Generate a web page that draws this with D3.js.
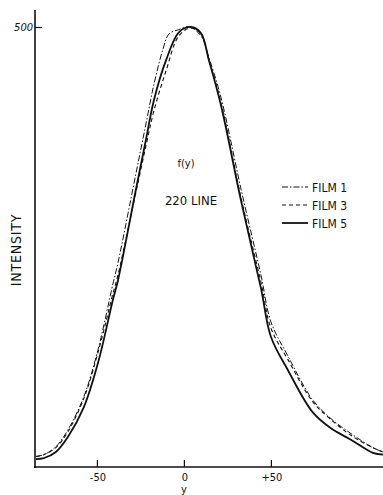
<!DOCTYPE html>
<html>
<head>
<meta charset="utf-8">
<script src="https://cdn.jsdelivr.net/npm/d3@7"></script>
<style>
  html, body { margin: 0; padding: 0; background: #fff; }
  svg text { fill: #111; font-family: "DejaVu Sans Condensed", "Liberation Sans Narrow", sans-serif; }
</style>
</head>
<body>
<div id="chart"></div>
<script>
// y positions (distance along the line) and intensities
const posFilm1 = [-85, -80.5, -73.6, -66.7, -57.5, -49.4, -40.8, -37.9, -27.6, -21.8, -17.2, -12, -8.6, -3, 3, 9.8, 14.4, 21.3, 32.8, 44.3, 50, 59.8, 74.1, 84.5, 96, 108.6, 114.4]
const film1 = [12, 14, 23, 42, 80, 133, 208, 232, 333, 390, 435, 475, 492, 497, 500, 490, 465, 420, 316, 218, 165, 126, 76, 55, 38, 22, 17]

const posFilm3 = [-85, -80.5, -73.6, -66.7, -57.5, -49.4, -40.8, -37.9, -27.6, -21.8, -17.2, -10.3, -2.9, 4, 9.8, 14.4, 21.3, 32.8, 44.3, 50, 59.8, 74.1, 84.5, 96, 108.6, 114.4]
const film3 = [12, 14, 22, 40, 78, 130, 197, 218, 312, 365, 405, 450, 490, 499, 492, 463, 414, 306, 210, 158, 122, 74, 54, 36, 22, 17]

const posFilm5 = [-85, -80.5, -73.6, -66.7, -57.5, -49.4, -40.8, -37.9, -27.6, -21.8, -17.2, -10.3, -2.9, 4, 9.8, 14.4, 21.3, 32.8, 44.3, 50, 59.8, 74.1, 84.5, 96, 108.6, 114.4]
const film5 = [9, 10, 17, 34, 68, 118, 190, 212, 315, 372, 417, 462, 494, 500, 493, 462, 411, 303, 203, 148, 110, 62, 44, 31, 16, 14]

const xTicks = [-50, 0, 50]
const xTickLabels = ['-50', '0', '+50']
const yTicks = [500]

const series = [
  {name: 'FILM 1', pos: posFilm1, vals: film1, dash: '6,2,1.5,2', width: 1},
  {name: 'FILM 3', pos: posFilm3, vals: film3, dash: '4,3', width: 1.1},
  {name: 'FILM 5', pos: posFilm5, vals: film5, dash: null, width: 1.8}
]

const width = 383
const height = 495

const svg = d3.select('#chart')
  .append('svg')
  .attr('width', width)
  .attr('height', height)

const x = d3.scaleLinear().domain([-85, 115]).range([36, 384])
const y = d3.scaleLinear().domain([0, 500]).range([467, 27])

// axes: plain lines like the hand drawing
svg.append('line')
  .attr('x1', 35).attr('x2', 35)
  .attr('y1', 10).attr('y2', 468)
  .attr('stroke', '#111').attr('stroke-width', 1.6)

svg.append('line')
  .attr('x1', 34).attr('x2', 383)
  .attr('y1', 467).attr('y2', 467)
  .attr('stroke', '#111').attr('stroke-width', 1.6)

// y tick
const yAxis = d3.axisRight(y).tickValues(yTicks).tickSize(7).tickFormat('')
svg.append('g')
  .attr('transform', 'translate(35,0)')
  .call(yAxis)
  .call(g => g.select('.domain').remove())
  .call(g => g.selectAll('line').attr('stroke', '#111').attr('stroke-width', 1.2))

svg.selectAll('.ylab')
  .data(yTicks)
  .enter()
  .append('text')
  .attr('class', 'ylab')
  .attr('x', 33)
  .attr('y', d => y(d) + 4)
  .attr('text-anchor', 'end')
  .style('font-size', '11px')
  .style('font-style', 'italic')
  .text(d => d)

// x ticks pointing up
const xAxis = d3.axisTop(x).tickValues(xTicks).tickSize(7).tickFormat('')
svg.append('g')
  .attr('transform', 'translate(0,467)')
  .call(xAxis)
  .call(g => g.select('.domain').remove())
  .call(g => g.selectAll('line').attr('stroke', '#111').attr('stroke-width', 1.2))

svg.selectAll('.xlab')
  .data(xTicks)
  .enter()
  .append('text')
  .attr('class', 'xlab')
  .attr('x', d => x(d) + 1)
  .attr('y', 481)
  .attr('text-anchor', 'middle')
  .style('font-size', '11px')
  .text((d, i) => xTickLabels[i])

svg.append('text')
  .attr('x', x(0))
  .attr('y', 493)
  .attr('text-anchor', 'middle')
  .style('font-size', '11px')
  .text('y')

svg.append('text')
  .attr('transform', 'translate(21,250) rotate(-90)')
  .attr('text-anchor', 'middle')
  .style('font-size', '14px')
  .style('letter-spacing', '0.8px')
  .text('INTENSITY')

// curves
const line = d3.line()
  .x(d => x(d[0]))
  .y(d => y(d[1]))
  .curve(d3.curveCatmullRom.alpha(0.5))

svg.selectAll('.curve')
  .data(series)
  .enter()
  .append('path')
  .attr('class', 'curve')
  .attr('d', s => line(s.pos.map((p, i) => [p, s.vals[i]])))
  .attr('fill', 'none')
  .attr('stroke', '#111')
  .attr('stroke-width', s => s.width)
  .attr('stroke-dasharray', s => s.dash)

// annotations
svg.append('text')
  .attr('x', 186)
  .attr('y', 167)
  .attr('text-anchor', 'middle')
  .style('font-size', '11px')
  .text('f(y)')

svg.append('text')
  .attr('x', 191)
  .attr('y', 205)
  .attr('text-anchor', 'middle')
  .style('font-size', '13px')
  .text('220 LINE')

// legend
const legend = svg.selectAll('.legend')
  .data(series)
  .enter()
  .append('g')
  .attr('class', 'legend')
  .attr('transform', (d, i) => `translate(282,${187 + i * 18})`)

legend.append('line')
  .attr('x1', 0).attr('x2', 26)
  .attr('y1', 0).attr('y2', 0)
  .attr('stroke', '#111')
  .attr('stroke-width', s => s.width)
  .attr('stroke-dasharray', s => s.dash)

legend.append('text')
  .attr('x', 30)
  .attr('y', 4.5)
  .style('font-size', '12px')
  .text(s => s.name)
</script>
</body>
</html>
